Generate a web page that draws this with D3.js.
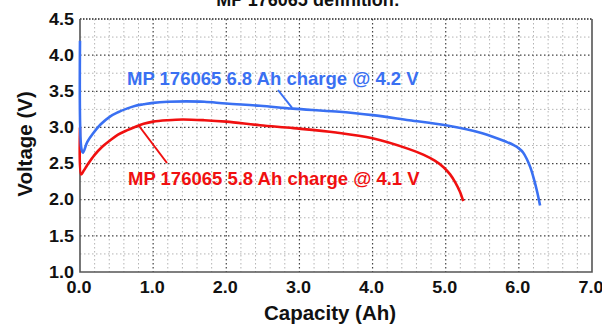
<!DOCTYPE html>
<html>
<head>
<meta charset="utf-8">
<script src="https://cdn.jsdelivr.net/npm/d3@7/dist/d3.min.js"></script>
<style>
  html, body { margin: 0; padding: 0; background: #fff; }
  svg { display: block; }
  text { font-family: "Liberation Sans", Arial, sans-serif; font-weight: bold; }
</style>
</head>
<body>
<svg id="chart" width="602" height="325"></svg>
<script>
// Discharge curves: capacity (Ah) vs. cell voltage (V)
const blueCapacity = [0, 0.02, 0.04, 0.1, 0.18, 0.28, 0.41, 0.52, 0.64, 0.76, 0.87, 1.0, 1.2, 1.45, 1.7, 2.0, 2.46, 2.91, 3.5, 4.0, 4.5, 5.0, 5.5, 5.83, 5.93, 6.0, 6.06, 6.11, 6.16, 6.21, 6.25, 6.29];
const blueVoltage  = [4.2, 2.7, 2.65, 2.80, 2.92, 3.04, 3.15, 3.21, 3.26, 3.30, 3.32, 3.34, 3.355, 3.36, 3.355, 3.33, 3.30, 3.26, 3.22, 3.17, 3.10, 3.03, 2.92, 2.80, 2.755, 2.71, 2.65, 2.56, 2.44, 2.27, 2.11, 1.92];
const redCapacity  = [0, 0.015, 0.05, 0.1, 0.2, 0.3, 0.41, 0.52, 0.64, 0.76, 0.87, 1.0, 1.2, 1.4, 1.7, 2.0, 2.46, 2.92, 3.5, 4.0, 4.5, 4.7, 4.85, 4.97, 5.06, 5.13, 5.19, 5.24];
const redVoltage   = [3.0, 2.35, 2.40, 2.48, 2.62, 2.73, 2.82, 2.90, 2.96, 3.01, 3.05, 3.08, 3.10, 3.11, 3.10, 3.08, 3.03, 2.99, 2.93, 2.85, 2.70, 2.62, 2.54, 2.45, 2.35, 2.24, 2.12, 1.98];

const xTicks = [0, 1, 2, 3, 4, 5, 6, 7];
const yTicks = [1.0, 1.5, 2.0, 2.5, 3.0, 3.5, 4.0, 4.5];

const titleText = "MP 176065 definition:";
const blueLabel = "MP 176065 6.8 Ah charge @ 4.2 V";
const redLabel  = "MP 176065 5.8 Ah charge @ 4.1 V";
const xTitle = "Capacity (Ah)";
const yTitle = "Voltage (V)";

const BLUE = "#3a70f2";
const RED = "#f01010";

const svg = d3.select("#chart");
const plot = { left: 80, right: 592, top: 19, bottom: 272 };

const x = d3.scaleLinear().domain([0, 7]).range([plot.left, plot.right]);
const y = d3.scaleLinear().domain([1.0, 4.5]).range([plot.bottom, plot.top]);

// Title (runs off the top edge of the page)
svg.append("text")
  .attr("x", 308).attr("y", 5.5)
  .attr("text-anchor", "middle")
  .attr("font-size", 18)
  .attr("fill", "#111")
  .text(titleText);

// Minor grid
const minorX = d3.range(0.2, 7, 0.2).filter(v => Math.abs(v - Math.round(v)) > 0.01);
const minorY = d3.range(1.25, 4.5, 0.25).filter(v => Math.abs(v * 2 - Math.round(v * 2)) > 0.01);
const grid = svg.append("g");
grid.selectAll("line.mx").data(minorX).join("line")
  .attr("x1", d => x(d)).attr("x2", d => x(d))
  .attr("y1", plot.top).attr("y2", plot.bottom)
  .attr("stroke", "#b4b4b4").attr("stroke-width", 1).attr("stroke-dasharray", "1.5,2.5");
grid.selectAll("line.my").data(minorY).join("line")
  .attr("x1", plot.left).attr("x2", plot.right)
  .attr("y1", d => y(d)).attr("y2", d => y(d))
  .attr("stroke", "#b4b4b4").attr("stroke-width", 1).attr("stroke-dasharray", "1.5,2.5");
// Major grid
grid.selectAll("line.Mx").data(xTicks.slice(1, -1)).join("line")
  .attr("x1", d => x(d)).attr("x2", d => x(d))
  .attr("y1", plot.top).attr("y2", plot.bottom)
  .attr("stroke", "#444").attr("stroke-width", 1.2).attr("stroke-dasharray", "1.5,2.5");
grid.selectAll("line.My").data(yTicks.slice(1, -1)).join("line")
  .attr("x1", plot.left).attr("x2", plot.right)
  .attr("y1", d => y(d)).attr("y2", d => y(d))
  .attr("stroke", "#444").attr("stroke-width", 1.2).attr("stroke-dasharray", "1.5,2.5");
// Top border, dotted like the major grid
svg.append("line")
  .attr("x1", plot.left).attr("x2", plot.right)
  .attr("y1", y(4.5)).attr("y2", y(4.5))
  .attr("stroke", "#222").attr("stroke-width", 1.4).attr("stroke-dasharray", "1.5,1.5");

// Axes
const xAxis = d3.axisBottom(x).tickValues(xTicks).tickFormat(d3.format(".1f")).tickSize(0).tickPadding(9);
const yAxis = d3.axisLeft(y).tickValues(yTicks).tickFormat(d3.format(".1f")).tickSize(0).tickPadding(6);

const gx = svg.append("g").attr("transform", `translate(0,${plot.bottom})`).call(xAxis);
gx.select(".domain").remove();
gx.selectAll("text").attr("font-size", 17).attr("fill", "#111")
  .attr("font-family", "Liberation Sans, Arial, sans-serif").attr("font-weight", "bold")
  .attr("textLength", 25).attr("lengthAdjust", "spacingAndGlyphs")
  .attr("dx", -1.5);

const gy = svg.append("g").attr("transform", `translate(${plot.left},0)`).call(yAxis);
gy.select(".domain").remove();
gy.selectAll("text").attr("font-size", 16.5).attr("fill", "#111")
  .attr("font-family", "Liberation Sans, Arial, sans-serif").attr("font-weight", "bold")
  .attr("textLength", 25).attr("lengthAdjust", "spacingAndGlyphs");

// Frame: left, right, bottom solid
svg.append("path")
  .attr("d", `M${plot.left},${plot.top}V${plot.bottom}H${plot.right}V${plot.top}`)
  .attr("fill", "none").attr("stroke", "#555").attr("stroke-width", 1.6);

// Axis titles
svg.append("text")
  .attr("x", 330).attr("y", 320)
  .attr("text-anchor", "middle").attr("font-size", 20.5).attr("fill", "#111")
  .text(xTitle);
svg.append("text")
  .attr("transform", "translate(32,144) rotate(-90)")
  .attr("text-anchor", "middle").attr("font-size", 20.5).attr("fill", "#111")
  .text(yTitle);

// Curves
const line = d3.line().x(d => x(d[0])).y(d => y(d[1])).curve(d3.curveCatmullRom.alpha(0.5));
const blueData = d3.zip(blueCapacity, blueVoltage);
const redData = d3.zip(redCapacity, redVoltage);

svg.append("path").datum(redData)
  .attr("d", line).attr("fill", "none").attr("stroke", RED).attr("stroke-width", 2.6);
svg.append("path").datum(blueData)
  .attr("d", line).attr("fill", "none").attr("stroke", BLUE).attr("stroke-width", 2.6);

// Annotations with leader lines
svg.append("line").attr("x1", 278).attr("y1", 90).attr("x2", x(2.9)).attr("y2", y(3.27))
  .attr("stroke", BLUE).attr("stroke-width", 2);
svg.append("text").attr("x", 127).attr("y", 85).attr("font-size", 18.5).attr("fill", BLUE)
  .text(blueLabel);

svg.append("line").attr("x1", x(0.8)).attr("y1", y(3.03)).attr("x2", 167).attr("y2", 163)
  .attr("stroke", RED).attr("stroke-width", 2);
svg.append("text").attr("x", 128).attr("y", 185).attr("font-size", 18.5).attr("fill", RED)
  .text(redLabel);
</script>
</body>
</html>
